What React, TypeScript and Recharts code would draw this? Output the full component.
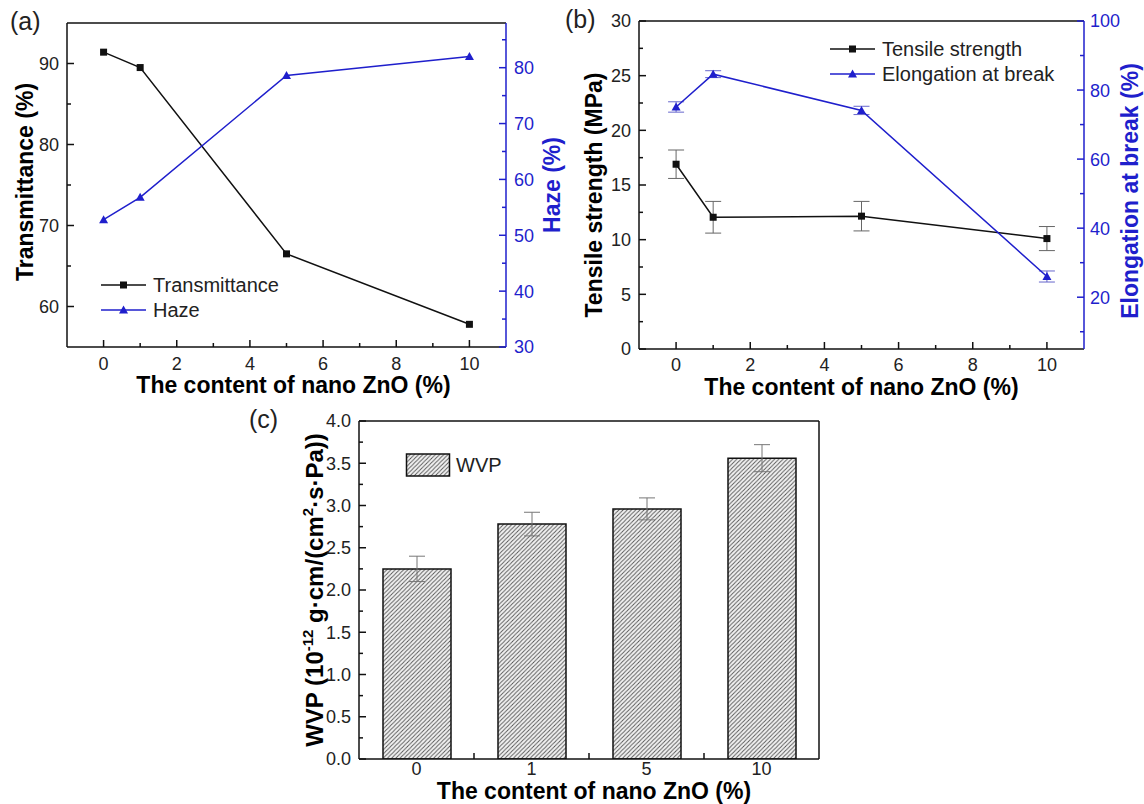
import React from "react";
import {
  Bar,
  BarChart,
  ErrorBar,
  Legend,
  Line,
  LineChart,
  ReferenceLine,
  XAxis,
  YAxis,
} from "recharts";

const FONT = '"Liberation Sans", Arial, Helvetica, sans-serif';
const BLACK = "#111111";
const TICK_TEXT = "#222222";
const BLUE = "#1f1fcc";

// (a) optical properties
const zno = [0, 1, 5, 10];
const transmittance = [91.4, 89.5, 66.5, 57.8];
const haze = [52.8, 56.8, 78.6, 82.0];

// (b) mechanical properties
const tensile = [16.9, 12.05, 12.15, 10.1];
const tensileErr = [1.3, 1.45, 1.35, 1.1];
const elongation = [75.1, 84.6, 74.1, 26.0];
const elongationErr = [1.5, 1.0, 1.2, 1.6];

// (c) water vapour permeability
const wvpCats = ["0", "1", "5", "10"];
const wvp = [2.25, 2.78, 2.96, 3.56];
const wvpErr = [0.15, 0.14, 0.13, 0.16];

// axis ticks (minor ticks are the ones not in the *Major lists)
const xTicks = [0, 1, 2, 3, 4, 5, 6, 7, 8, 9, 10];
const xMajor = [0, 2, 4, 6, 8, 10];
const transTicks = [60, 65, 70, 75, 80, 85, 90];
const transMajor = [60, 70, 80, 90];
const hazeTicks = [30, 35, 40, 45, 50, 55, 60, 65, 70, 75, 80, 85];
const hazeMajor = [30, 40, 50, 60, 70, 80];
const tensileTicks = [0, 2.5, 5, 7.5, 10, 12.5, 15, 17.5, 20, 22.5, 25, 27.5, 30];
const tensileMajor = [0, 5, 10, 15, 20, 25, 30];
const elongTicks = [10, 20, 30, 40, 50, 60, 70, 80, 90, 100];
const elongMajor = [20, 40, 60, 80, 100];
const wvpTicks = [0, 0.25, 0.5, 0.75, 1, 1.25, 1.5, 1.75, 2, 2.25, 2.5, 2.75, 3, 3.25, 3.5, 3.75, 4];
const wvpMajor = [0, 0.5, 1, 1.5, 2, 2.5, 3, 3.5, 4];
const wvpXTicks = [0, 0.5, 1, 1.5, 2, 2.5, 3];

const dataA = zno.map((x, i) => ({ x, t: transmittance[i], h: haze[i] }));
const dataB = zno.map((x, i) => ({
  x,
  ts: tensile[i],
  tsErr: tensileErr[i],
  el: elongation[i],
  elErr: elongationErr[i],
}));
const dataC = wvpCats.map((c, i) => ({ i, cat: c, v: wvp[i], e: wvpErr[i] }));

const yTick =
  (side: "left" | "right", gap: number, majors: number[], color: string, textColor: string, fmt: (v: number) => string = String) =>
  (p: any) => {
    const v = p.payload.value;
    const major = majors.includes(v);
    const len = major ? 7 : 4;
    const ax = side === "left" ? p.x + gap : p.x - gap;
    const x2 = side === "left" ? ax + len : ax - len;
    return (
      <g key={`yt-${side}-${v}`}>
        <line x1={ax} x2={x2} y1={p.y} y2={p.y} stroke={color} strokeWidth={1.5} />
        {major && (
          <text
            x={p.x}
            y={p.y}
            dy="0.36em"
            textAnchor={side === "left" ? "end" : "start"}
            fontFamily={FONT}
            fontSize={18}
            fill={textColor}
          >
            {fmt(v)}
          </text>
        )}
      </g>
    );
  };

const xTick = (gap: number, majors: number[]) => (p: any) => {
  const v = p.payload.value;
  const major = majors.includes(v);
  const ay = p.y - gap;
  return (
    <g key={`xt-${v}`}>
      <line x1={p.x} x2={p.x} y1={ay} y2={ay - (major ? 7 : 4)} stroke={BLACK} strokeWidth={1.5} />
      {major && (
        <text x={p.x} y={p.y + 13} textAnchor="middle" fontFamily={FONT} fontSize={18} fill={TICK_TEXT}>
          {v}
        </text>
      )}
    </g>
  );
};

const catTick = (gap: number) => (p: any) => {
  const v = p.payload.value;
  const ay = p.y - gap;
  if (Number.isInteger(v)) {
    return (
      <text key={`ct-${v}`} x={p.x} y={p.y + 13} textAnchor="middle" fontFamily={FONT} fontSize={18} fill={TICK_TEXT}>
        {wvpCats[v]}
      </text>
    );
  }
  return <line key={`ct-${v}`} x1={p.x} x2={p.x} y1={ay} y2={ay - 6} stroke={BLACK} strokeWidth={1.5} />;
};

function Title(props: any) {
  const { viewBox, text, rot = 0, dx = 0, dy = 0, color = "#000" } = props;
  if (!viewBox) return null;
  const cx = viewBox.x + viewBox.width / 2 + dx;
  const cy = viewBox.y + viewBox.height / 2 + dy;
  return (
    <text
      x={cx}
      y={cy}
      transform={rot ? `rotate(${rot} ${cx} ${cy})` : undefined}
      textAnchor="middle"
      dominantBaseline="central"
      fontFamily={FONT}
      fontWeight="bold"
      fontSize={23}
      fill={color}
    >
      {text}
    </text>
  );
}

function WvpTitle(props: any) {
  const { viewBox } = props;
  if (!viewBox) return null;
  const cx = viewBox.x + viewBox.width / 2;
  const cy = viewBox.y + viewBox.height / 2;
  return (
    <text
      x={cx}
      y={cy + 8}
      transform={`rotate(-90 ${cx} ${cy})`}
      textAnchor="middle"
      fontFamily={FONT}
      fontWeight="bold"
      fontSize={24}
      fill="#000"
    >
      WVP (10
      <tspan dy={-10} fontSize={15}>
        -12
      </tspan>
      <tspan dy={10}> g·cm/(cm</tspan>
      <tspan dy={-10} fontSize={15}>
        2
      </tspan>
      <tspan dy={10}>·s·Pa))</tspan>
    </text>
  );
}

const squareDot = (p: any) => (
  <rect key={`sq-${p.index}`} x={p.cx - 3.5} y={p.cy - 3.5} width={7} height={7} fill={BLACK} />
);
const triDot = (p: any) => (
  <path
    key={`tr-${p.index}`}
    d={`M${p.cx},${p.cy - 4.5} L${p.cx + 4.5},${p.cy + 3.5} L${p.cx - 4.5},${p.cy + 3.5} Z`}
    fill={BLUE}
  />
);

const lineLegend = (items: { name: string; color: string; marker: "square" | "triangle" }[]) => () => (
  <svg width={280} height={55} style={{ display: "block" }}>
    {items.map((it, k) => {
      const y = 15 + k * 25;
      return (
        <g key={it.name}>
          <line x1={6} x2={51} y1={y} y2={y} stroke={it.color} strokeWidth={1.5} />
          {it.marker === "square" ? (
            <rect x={25} y={y - 3.5} width={7} height={7} fill={it.color} />
          ) : (
            <path d={`M28.5,${y - 4.5} L33,${y + 3.5} L24,${y + 3.5} Z`} fill={it.color} />
          )}
          <text x={58} y={y} dy="0.36em" fontFamily={FONT} fontSize={20} fill={TICK_TEXT}>
            {it.name}
          </text>
        </g>
      );
    })}
  </svg>
);

const barLegend = () => (
  <svg width={120} height={36} style={{ display: "block" }}>
    <rect x={6.5} y={6} width={43} height={22} fill="url(#hatch)" stroke={BLACK} strokeWidth={1.5} />
    <text x={56} y={17} dy="0.36em" fontFamily={FONT} fontSize={20} fill={TICK_TEXT}>
      WVP
    </text>
  </svg>
);

const axisBlack = { stroke: BLACK, strokeWidth: 1.5 };
const axisBlue = { stroke: BLUE, strokeWidth: 1.5 };

export default function App() {
  return (
    <div
      style={{
        position: "fixed",
        left: 0,
        top: 0,
        width: 1144,
        height: 804,
        overflow: "hidden",
        background: "#fff",
      }}
    >
      <svg width={0} height={0} style={{ position: "absolute" }}>
        <defs>
          <pattern id="hatch" patternUnits="userSpaceOnUse" width={4.2} height={4.2}>
            <rect width={4.2} height={4.2} fill="#f2f2f2" />
            <path d="M-1,1 l2,-2 M0,4.2 l4.2,-4.2 M3.2,5.2 l2,-2" stroke="#555" strokeWidth={0.9} />
          </pattern>
        </defs>
      </svg>

      {/* (a) */}
      <div style={{ position: "absolute", left: -30, top: 0 }}>
        <LineChart width={640} height={440} data={dataA} margin={{ top: 23, right: 12, bottom: 23, left: 13 }}>
          <XAxis
            dataKey="x"
            type="number"
            domain={[-1, 11]}
            ticks={xTicks}
            interval={0}
            allowDataOverflow
            height={70}
            axisLine={axisBlack}
            tickLine={false}
            tickSize={0}
            tickMargin={10}
            tick={xTick(10, xMajor)}
            label={<Title text="The content of nano ZnO (%)" dx={7} dy={3} />}
          />
          <YAxis
            yAxisId="left"
            domain={[55, 95]}
            ticks={transTicks}
            interval={0}
            allowDataOverflow
            width={84}
            axisLine={axisBlack}
            tickLine={false}
            tickSize={0}
            tickMargin={8}
            tick={yTick("left", 8, transMajor, BLACK, TICK_TEXT)}
            label={<Title text="Transmittance (%)" rot={-90} dy={-3} />}
          />
          <YAxis
            yAxisId="right"
            orientation="right"
            domain={[30, 88]}
            ticks={hazeTicks}
            interval={0}
            allowDataOverflow
            width={92}
            axisLine={axisBlue}
            tickLine={false}
            tickSize={0}
            tickMargin={8}
            tick={yTick("right", 8, hazeMajor, BLUE, BLUE)}
            label={<Title text="Haze (%)" rot={-90} color={BLUE} />}
          />
          <ReferenceLine yAxisId="left" y={95} stroke={BLACK} strokeWidth={1.5} />
          <Line
            yAxisId="left"
            dataKey="t"
            name="Transmittance"
            type="linear"
            stroke={BLACK}
            strokeWidth={1.5}
            dot={squareDot}
            activeDot={false}
            isAnimationActive={false}
          />
          <Line
            yAxisId="right"
            dataKey="h"
            name="Haze"
            type="linear"
            stroke={BLUE}
            strokeWidth={1.5}
            dot={triDot}
            activeDot={false}
            isAnimationActive={false}
          />
          <Legend
            layout="vertical"
            align="center"
            verticalAlign="middle"
            wrapperStyle={{ left: 125, top: 270, width: 280, height: 55 }}
            content={lineLegend([
              { name: "Transmittance", color: BLACK, marker: "square" },
              { name: "Haze", color: BLUE, marker: "triangle" },
            ])}
          />
        </LineChart>
      </div>

      {/* (b) */}
      <div style={{ position: "absolute", left: 540, top: 0 }}>
        <LineChart width={640} height={440} data={dataB} margin={{ top: 21, right: 4, bottom: 16, left: 8 }}>
          <XAxis
            dataKey="x"
            type="number"
            domain={[-1, 11]}
            ticks={xTicks}
            interval={0}
            allowDataOverflow
            height={75}
            axisLine={axisBlack}
            tickLine={false}
            tickSize={0}
            tickMargin={9}
            tick={xTick(9, xMajor)}
            label={<Title text="The content of nano ZnO (%)" />}
          />
          <YAxis
            yAxisId="left"
            domain={[0, 30]}
            ticks={tensileTicks}
            interval={0}
            allowDataOverflow
            width={91}
            axisLine={axisBlack}
            tickLine={false}
            tickSize={0}
            tickMargin={8}
            tick={yTick("left", 8, tensileMajor, BLACK, TICK_TEXT)}
            label={<Title text="Tensile strength (MPa)" rot={-90} dy={10} />}
          />
          <YAxis
            yAxisId="right"
            orientation="right"
            domain={[5, 100]}
            ticks={elongTicks}
            interval={0}
            allowDataOverflow
            width={92}
            axisLine={axisBlue}
            tickLine={false}
            tickSize={0}
            tickMargin={6}
            tick={yTick("right", 6, elongMajor, BLUE, BLUE)}
            label={<Title text="Elongation at break (%)" rot={-90} dy={6} color={BLUE} />}
          />
          <ReferenceLine yAxisId="left" y={30} stroke={BLACK} strokeWidth={1.5} />
          <Line
            yAxisId="left"
            dataKey="ts"
            name="Tensile strength"
            type="linear"
            stroke={BLACK}
            strokeWidth={1.5}
            dot={squareDot}
            activeDot={false}
            isAnimationActive={false}
          >
            <ErrorBar dataKey="tsErr" width={8} stroke="#666" strokeWidth={1} direction="y" />
          </Line>
          <Line
            yAxisId="right"
            dataKey="el"
            name="Elongation at break"
            type="linear"
            stroke={BLUE}
            strokeWidth={1.5}
            dot={triDot}
            activeDot={false}
            isAnimationActive={false}
          >
            <ErrorBar dataKey="elErr" width={8} stroke="#6666cc" strokeWidth={1} direction="y" />
          </Line>
          <Legend
            layout="vertical"
            align="center"
            verticalAlign="middle"
            wrapperStyle={{ left: 284, top: 34, width: 280, height: 55 }}
            content={lineLegend([
              { name: "Tensile strength", color: BLACK, marker: "square" },
              { name: "Elongation at break", color: BLUE, marker: "triangle" },
            ])}
          />
        </LineChart>
      </div>

      {/* (c) */}
      <div style={{ position: "absolute", left: 250, top: 400 }}>
        <BarChart width={600} height={440} data={dataC} margin={{ top: 21, right: 31, bottom: 13, left: 20 }}>
          <XAxis
            dataKey="i"
            type="number"
            domain={[-0.5, 3.5]}
            ticks={wvpXTicks}
            interval={0}
            allowDataOverflow
            height={68}
            axisLine={axisBlack}
            tickLine={false}
            tickSize={0}
            tickMargin={3}
            tick={catTick(3)}
            label={<Title text="The content of nano ZnO (%)" dx={5} dy={-2} />}
          />
          <YAxis
            domain={[0, 4]}
            ticks={wvpTicks}
            interval={0}
            allowDataOverflow
            width={89}
            axisLine={axisBlack}
            tickLine={false}
            tickSize={0}
            tickMargin={8}
            tick={yTick("left", 8, wvpMajor, BLACK, TICK_TEXT, (v) => v.toFixed(1))}
            label={<WvpTitle />}
          />
          <ReferenceLine y={4} stroke={BLACK} strokeWidth={1.5} />
          <ReferenceLine x={3.5} stroke={BLACK} strokeWidth={1.5} />
          <Bar
            dataKey="v"
            name="WVP"
            barSize={68}
            fill="url(#hatch)"
            stroke={BLACK}
            strokeWidth={1.5}
            isAnimationActive={false}
          >
            <ErrorBar dataKey="e" width={8} stroke="#777" strokeWidth={1} direction="y" />
          </Bar>
          <Legend
            layout="vertical"
            align="center"
            verticalAlign="middle"
            wrapperStyle={{ left: 150, top: 48, width: 120, height: 36 }}
            content={barLegend}
          />
        </BarChart>
      </div>

      <svg
        width={1144}
        height={804}
        style={{ position: "absolute", left: 0, top: 0, pointerEvents: "none" }}
      >
        <text x={10} y={30} fontFamily={FONT} fontSize={25} fill={TICK_TEXT}>
          (a)
        </text>
        <text x={565} y={28} fontFamily={FONT} fontSize={25} fill={TICK_TEXT}>
          (b)
        </text>
        <text x={249} y={428} fontFamily={FONT} fontSize={25} fill={TICK_TEXT}>
          (c)
        </text>
      </svg>
    </div>
  );
}
